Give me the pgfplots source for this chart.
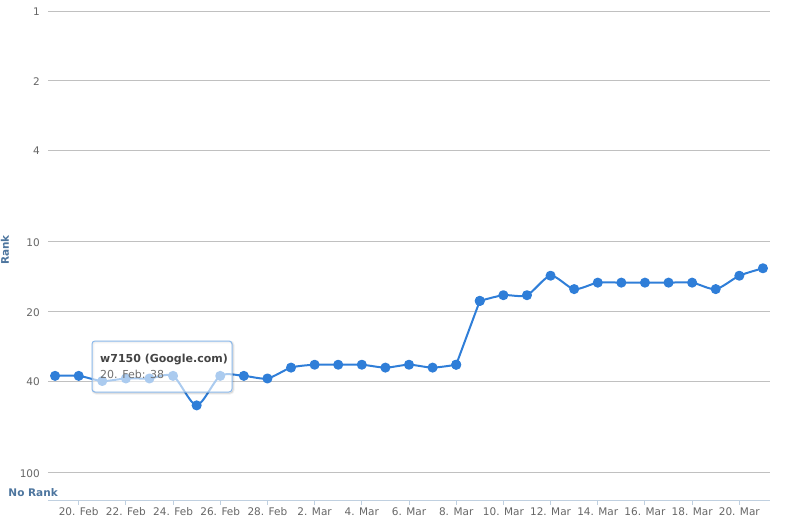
\documentclass[border=0pt]{standalone}
\usepackage{pgfplots}
\usepackage{pgfplotstable}
\pgfplotsset{compat=1.18}
\usepackage{fontspec}
\setmainfont{DejaVu Sans}
\definecolor{series}{HTML}{2F7ED8}
\definecolor{gridc}{HTML}{C0C0C0}
\definecolor{axisc}{HTML}{C0D0E0}
\definecolor{labelc}{HTML}{666666}
\definecolor{titlec}{HTML}{4D759E}
\definecolor{tipb}{HTML}{8AB8EA}
\definecolor{tiptext}{HTML}{444444}
\definecolor{tiptextb}{HTML}{707070}
\pgfplotsset{rankline/.style={color=series, line width=2pt, line join=round,
    mark=*, mark size=4pt, mark options={fill=series, draw=none}}}

% 19 Feb = 0 ... 21 Mar = 30
\pgfplotstableread{
x y
0 38
1 38
2 40
3 39
4 39
5 38
6 51
7 38
8 38
9 39
10 35
11 34
12 34
13 34
14 35
15 34
16 35
17 34
}\ranksA
\pgfplotstableread{
x y
17 34
18 18
}\ranksB
\pgfplotstableread{
x y
18 18
19 17
20 17
21 14
22 16
23 15
24 15
25 15
26 15
27 15
28 16
29 14
30 13
}\ranksC

\begin{document}
\begin{tikzpicture}[font=\fontsize{10.5}{12}\selectfont]
\useasboundingbox (-48pt,-23pt) rectangle (737pt,500pt);
\begin{axis}[
  at={(0pt,0pt)}, anchor=south west,
  scale only axis, width=722pt, height=489pt,
  xmin=-0.3, xmax=30.3,
  ymode=log, ymin=1, ymax=131, y dir=reverse,
  ytick={1,2,4,10,20,40,100},
  yticklabels={1,2,4,10,20,40,100},
  ymajorgrids, grid style={gridc, line width=1pt},
  xtick={1,3,...,29},
  xticklabels={20. Feb,22. Feb,24. Feb,26. Feb,28. Feb,2. Mar,4. Mar,6. Mar,8. Mar,10. Mar,12. Mar,14. Mar,16. Mar,18. Mar,20. Mar},
  axis x line*=bottom, axis y line*=left,
  x axis line style={axisc, line width=1pt, -},
  y axis line style={draw=none},
  xtick style={axisc, line width=1pt},
  major tick length=5pt, tick align=outside,
  ytick style={draw=none},
  minor tick num=0,
  xticklabel style={anchor=base, inner sep=0pt, yshift=-11pt, text=labelc},
  yticklabel style={anchor=east, inner sep=0pt, xshift=-3pt, yshift=-1pt, text=labelc},
  ylabel={\bfseries Rank},
  ylabel style={at={([xshift=-43pt]axis description cs:0,0.511)}, anchor=center, text=titlec},
]
\addplot[rankline, smooth, tension=0.45] table {\ranksA};
\addplot[rankline] table {\ranksB};
\addplot[rankline, smooth, tension=0.45] table {\ranksC};
\end{axis}
\node[anchor=base west, inner sep=0pt, text=titlec, font=\fontsize{10.5}{12}\selectfont\bfseries] at (-39.7pt,4pt) {No Rank};
\draw[black, opacity=0.06, line width=3pt, rounded corners=3pt] (45pt,107pt) rectangle (185pt,158pt);
\draw[black, opacity=0.1, line width=1pt, rounded corners=3pt] (45pt,107pt) rectangle (185pt,158pt);
\draw[tipb, line width=1pt, rounded corners=3pt, fill=white, fill opacity=0.6] (44pt,108pt) rectangle (184pt,159pt);
\node[anchor=base west, inner sep=0pt, text=tiptext, font=\fontsize{11}{13}\selectfont\bfseries] at (52pt,138pt) {w7150 (Google.com)};
\node[anchor=base west, inner sep=0pt, text=tiptextb, font=\fontsize{11}{13}\selectfont] at (52pt,122pt) {20. Feb: 38};
\end{tikzpicture}
\end{document}
